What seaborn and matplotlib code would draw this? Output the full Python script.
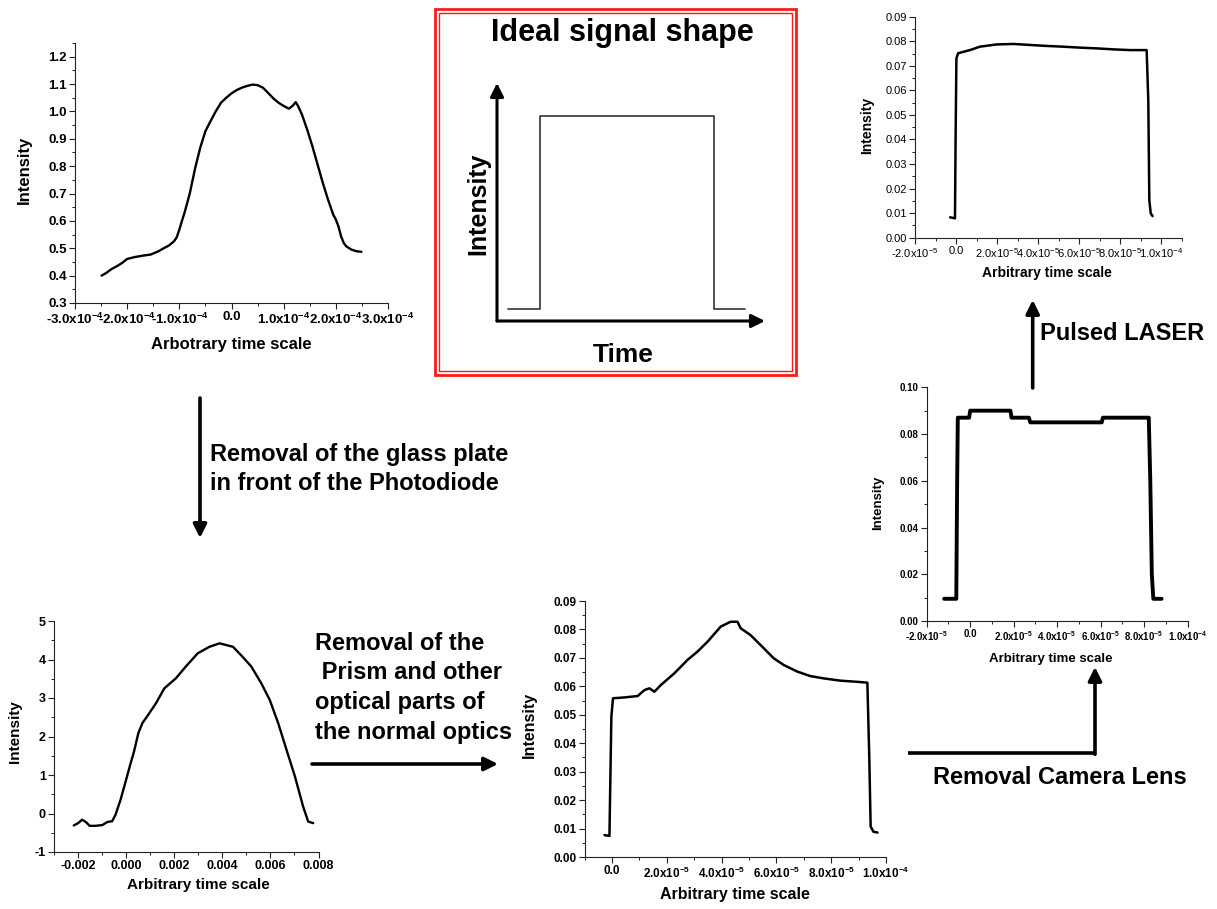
import numpy as np
import pandas as pd
import matplotlib
matplotlib.use("Agg")
import matplotlib.pyplot as plt
import seaborn as sns
from matplotlib.ticker import MultipleLocator, FixedLocator, FixedFormatter
from matplotlib.patches import Rectangle

# ---------------- data ----------------
# Panel A: top-left (glass plate in front of photodiode), time in units of 1e-4
a_time = [-2.49, -2.40, -2.30, -2.20, -2.10, -2.00, -1.85, -1.70, -1.55, -1.40, -1.30, -1.20,
          -1.10, -1.05, -1.00, -0.95, -0.90, -0.80, -0.70, -0.60, -0.50, -0.40, -0.30, -0.20,
          -0.10, 0.00, 0.10, 0.20, 0.30, 0.40, 0.50, 0.60, 0.70, 0.80, 0.90, 1.00, 1.10, 1.18,
          1.23, 1.27, 1.35, 1.45, 1.55, 1.65, 1.75, 1.85, 1.95, 2.00, 2.05, 2.10, 2.15, 2.20,
          2.30, 2.40, 2.49]
a_intensity = [0.400, 0.410, 0.424, 0.434, 0.446, 0.461, 0.468, 0.473, 0.477, 0.489, 0.500, 0.510,
               0.526, 0.540, 0.568, 0.600, 0.630, 0.700, 0.790, 0.867, 0.928, 0.965, 1.001, 1.032,
               1.050, 1.066, 1.078, 1.087, 1.093, 1.098, 1.096, 1.087, 1.068, 1.048, 1.032, 1.020,
               1.010, 1.022, 1.034, 1.022, 0.989, 0.934, 0.873, 0.806, 0.739, 0.678, 0.623, 0.605,
               0.580, 0.544, 0.520, 0.507, 0.495, 0.489, 0.487]

# Panel B: top-right (pulsed laser), time in units of 1e-5
b_time = [-0.29, -0.05, -0.02, 0.02, 0.10, 0.36, 0.68, 1.17, 1.98, 2.80, 3.60, 4.40, 5.20,
          6.05, 6.86, 7.67, 8.49, 9.30, 9.38, 9.43, 9.50, 9.59]
b_intensity = [0.0083, 0.0079, 0.0400, 0.0730, 0.0751, 0.0757, 0.0764, 0.0778, 0.0787, 0.0789,
               0.0785, 0.0781, 0.0778, 0.0774, 0.0771, 0.0767, 0.0764, 0.0764, 0.0560, 0.0153,
               0.0099, 0.0088]

# Panel C: middle-right (camera lens removed), time in units of 1e-5
c_time = [-1.20, -0.64, -0.60, -0.57, -0.05, 0.00, 1.85, 1.90, 2.70, 2.76, 6.05, 6.10,
          8.21, 8.28, 8.35, 8.42, 8.80]
c_intensity = [0.0095, 0.0095, 0.0600, 0.0870, 0.0870, 0.0900, 0.0900, 0.0870, 0.0870, 0.0850,
               0.0850, 0.0870, 0.0870, 0.0600, 0.0200, 0.0095, 0.0095]

# Panel D: bottom-left (glass plate removed), time in units of 1e-3
d_time = [-2.19, -2.01, -1.84, -1.67, -1.53, -1.28, -1.00, -0.79, -0.59, -0.45, -0.24, -0.03,
          0.18, 0.32, 0.50, 0.67, 0.95, 1.23, 1.58, 2.06, 2.48, 2.97, 3.46, 3.88, 4.44, 4.78,
          5.20, 5.62, 5.97, 6.32, 6.67, 7.02, 7.36, 7.57, 7.78]
d_intensity = [-0.31, -0.25, -0.16, -0.23, -0.32, -0.32, -0.30, -0.22, -0.20, -0.03, 0.36, 0.83,
               1.31, 1.61, 2.09, 2.35, 2.60, 2.86, 3.25, 3.51, 3.82, 4.16, 4.33, 4.42, 4.33, 4.11,
               3.82, 3.38, 2.95, 2.35, 1.65, 0.96, 0.18, -0.21, -0.25]

# Panel E: bottom-middle (prism and optics removed), time in units of 1e-5
e_time = [-0.27, -0.09, -0.02, 0.04, 0.46, 0.94, 1.19, 1.37, 1.55, 1.79, 2.28, 2.76, 3.12,
          3.49, 3.97, 4.33, 4.58, 4.70, 5.06, 5.54, 5.91, 6.27, 6.76, 7.24, 7.72, 8.33, 8.93,
          9.32, 9.39, 9.44, 9.54, 9.69]
e_intensity = [0.0077, 0.0074, 0.0493, 0.0558, 0.0561, 0.0566, 0.0587, 0.0593, 0.0581, 0.0605,
               0.0646, 0.0693, 0.0722, 0.0757, 0.0810, 0.0827, 0.0827, 0.0804, 0.0780, 0.0734,
               0.0698, 0.0675, 0.0652, 0.0636, 0.0628, 0.0620, 0.0616, 0.0613, 0.0350, 0.0107,
               0.0089, 0.0086]

# Ideal signal shape (schematic)
ideal_time = [0.4, 1.6, 1.6, 8.1, 8.1, 9.25]
ideal_level = [0.5, 0.5, 8.6, 8.6, 0.5, 0.5]

# Tick labels
a_xticks = [-3e-4, -2e-4, -1e-4, 0.0, 1e-4, 2e-4, 3e-4]
a_xticklabels = ["-3.0x10$^{-4}$", "-2.0x10$^{-4}$", "-1.0x10$^{-4}$", "0.0",
                 "1.0x10$^{-4}$", "2.0x10$^{-4}$", "3.0x10$^{-4}$"]
a_yticks = [0.3, 0.4, 0.5, 0.6, 0.7, 0.8, 0.9, 1.0, 1.1, 1.2]
a_yticklabels = ["0.3", "0.4", "0.5", "0.6", "0.7", "0.8", "0.9", "1.0", "1.1", "1.2"]

b_xticks = [-2e-5, 0.0, 2e-5, 4e-5, 6e-5, 8e-5, 1e-4]
b_xticklabels = ["-2.0x10$^{-5}$", "0.0", "2.0x10$^{-5}$", "4.0x10$^{-5}$", "6.0x10$^{-5}$",
                 "8.0x10$^{-5}$", "1.0x10$^{-4}$"]
b_yticks = [0.00, 0.01, 0.02, 0.03, 0.04, 0.05, 0.06, 0.07, 0.08, 0.09]
b_yticklabels = ["0.00", "0.01", "0.02", "0.03", "0.04", "0.05", "0.06", "0.07", "0.08", "0.09"]

c_xticks = [-2e-5, 0.0, 2e-5, 4e-5, 6e-5, 8e-5, 1e-4]
c_xticklabels = b_xticklabels
c_yticks = [0.00, 0.02, 0.04, 0.06, 0.08, 0.10]
c_yticklabels = ["0.00", "0.02", "0.04", "0.06", "0.08", "0.10"]

d_xticks = [-0.002, 0.0, 0.002, 0.004, 0.006, 0.008]
d_xticklabels = ["-0.002", "0.000", "0.002", "0.004", "0.006", "0.008"]
d_yticks = [-1, 0, 1, 2, 3, 4, 5]
d_yticklabels = ["-1", "0", "1", "2", "3", "4", "5"]

e_xticks = [0.0, 2e-5, 4e-5, 6e-5, 8e-5, 1e-4]
e_xticklabels = ["0.0", "2.0x10$^{-5}$", "4.0x10$^{-5}$", "6.0x10$^{-5}$", "8.0x10$^{-5}$",
                 "1.0x10$^{-4}$"]
e_yticks = b_yticks
e_yticklabels = b_yticklabels

# ---------------- style ----------------
sns.set_theme(style="ticks")
plt.rcParams["font.family"] = ["Liberation Sans", "DejaVu Sans"]
plt.rcParams["mathtext.default"] = "regular"
plt.rcParams["axes.linewidth"] = 0.8
plt.rcParams["text.color"] = "black"
plt.rcParams["axes.labelcolor"] = "black"
plt.rcParams["xtick.color"] = "black"
plt.rcParams["ytick.color"] = "black"

W, H = 1217, 909
fig = plt.figure(figsize=(W / 100, H / 100), dpi=100)
fig.patch.set_facecolor("white")

# overlay in pixel coordinates for annotations
ov = fig.add_axes([0, 0, 1, 1])
ov.set_xlim(0, W)
ov.set_ylim(H, 0)
ov.axis("off")


def px_axes(left, top, right, bottom):
    return fig.add_axes([left / W, 1 - bottom / H, (right - left) / W, (bottom - top) / H])


def panel(ax, x, y, scale, lw, xlim, ylim, xticks, xticklabels, xminor, yticks, yticklabels,
          yminor, tick_fs, tick_weight, label_fs, xlabel, ylabel_px, xlabel_px, box):
    sns.lineplot(x=np.array(x) * scale, y=np.array(y), ax=ax, color="black", lw=lw,
                 estimator=None, sort=False)
    ax.set_facecolor("none")
    ax.set_xlim(*xlim)
    ax.set_ylim(*ylim)
    ax.xaxis.set_major_locator(FixedLocator(xticks))
    ax.xaxis.set_major_formatter(FixedFormatter(xticklabels))
    ax.xaxis.set_minor_locator(MultipleLocator(xminor))
    ax.yaxis.set_major_locator(FixedLocator(yticks))
    ax.yaxis.set_major_formatter(FixedFormatter(yticklabels))
    ax.yaxis.set_minor_locator(MultipleLocator(yminor))
    ax.tick_params(which="major", direction="out", length=4, width=0.8, color="#222222",
                   labelcolor="black", labelsize=tick_fs, pad=2)
    ax.tick_params(which="minor", direction="out", length=2.5, width=0.7, color="#222222")
    for lab in ax.get_xticklabels() + ax.get_yticklabels():
        lab.set_fontweight(tick_weight)
    for s in ("left", "bottom"):
        ax.spines[s].set_color("#222222")
    sns.despine(ax=ax)
    ax.set_xlabel(xlabel, fontsize=label_fs, fontweight="bold", color="black")
    ax.set_ylabel("Intensity", fontsize=label_fs, fontweight="bold", color="black")
    left, top, right, bottom = box
    ax.yaxis.set_label_coords((ylabel_px[0] - left) / (right - left),
                              (bottom - ylabel_px[1]) / (bottom - top))
    ax.yaxis.label.set_verticalalignment("center")
    ax.xaxis.set_label_coords((xlabel_px[0] - left) / (right - left),
                              (bottom - xlabel_px[1]) / (bottom - top))
    ax.xaxis.label.set_verticalalignment("center")


# Panel A
boxA = (75, 43, 388, 303)
axA = px_axes(*boxA)
panel(axA, a_time, a_intensity, 1e-4, 1.7, (-3e-4, 3e-4), (0.3, 1.25), a_xticks, a_xticklabels,
      5e-5, a_yticks, a_yticklabels, 0.05, 9.5, "bold", 12, "Arbotrary time scale",
      (24, 170), (231, 345), boxA)

# Panel B
boxB = (915, 16.7, 1181.5, 237.7)
axB = px_axes(*boxB)
panel(axB, b_time, b_intensity, 1e-5, 1.8, (-2e-5, 1.1e-4), (0, 0.09), b_xticks, b_xticklabels,
      1e-5, b_yticks, b_yticklabels, 0.005, 8, "normal", 10, "Arbitrary time scale",
      (867, 125), (1047, 273), boxB)

# Panel C
boxC = (926.7, 387.3, 1187.7, 621)
axC = px_axes(*boxC)
panel(axC, c_time, c_intensity, 1e-5, 2.8, (-2e-5, 1e-4), (0, 0.10), c_xticks, c_xticklabels,
      1e-5, c_yticks, c_yticklabels, 0.01, 7, "bold", 9.5, "Arbitrary time scale",
      (878, 503), (1051, 659), boxC)

# Panel D
boxD = (54.3, 621, 318.5, 852)
axD = px_axes(*boxD)
panel(axD, d_time, d_intensity, 1e-3, 1.7, (-0.003, 0.008), (-1, 5), d_xticks, d_xticklabels,
      0.001, d_yticks, d_yticklabels, 0.5, 9, "bold", 11, "Arbitrary time scale",
      (15, 732), (198, 885), boxD)

# Panel E
boxE = (584.5, 601, 886, 857)
axE = px_axes(*boxE)
panel(axE, e_time, e_intensity, 1e-5, 1.8, (-1e-5, 1e-4), (0, 0.09), e_xticks, e_xticklabels,
      1e-5, e_yticks, e_yticklabels, 0.005, 8.5, "bold", 11.5, "Arbitrary time scale",
      (529, 725), (735, 895), boxE)

# ---------------- ideal signal box ----------------
ov.add_patch(Rectangle((434.5, 9.0), 361, 366, fill=False, ec="#ff1a1a", lw=2.0))
ov.add_patch(Rectangle((438.5, 13.0), 353, 358, fill=False, ec="#ff1a1a", lw=1.0))
ov.text(622, 33, "Ideal signal shape", fontsize=22, fontweight="bold", ha="center", va="center")
ov.text(478, 204, "Intensity", fontsize=18, fontweight="bold", ha="center", va="center",
        rotation=90)
ov.text(623, 355, "Time", fontsize=19, fontweight="bold", ha="center", va="center")

axI = px_axes(497, 83, 765, 321)
sns.lineplot(x=ideal_time, y=ideal_level, ax=axI, color="#333333", lw=1.2, estimator=None,
             sort=False)
axI.set_xlim(0, 10)
axI.set_ylim(0, 10)
axI.axis("off")
axI.annotate("", xy=(0, 1), xytext=(0, 0), xycoords="axes fraction",
             arrowprops=dict(arrowstyle="-|>", lw=2.2, color="black", mutation_scale=20,
                             shrinkA=0, shrinkB=0))
axI.annotate("", xy=(1, 0), xytext=(0, 0), xycoords="axes fraction",
             arrowprops=dict(arrowstyle="-|>", lw=2.2, color="black", mutation_scale=20,
                             shrinkA=0, shrinkB=0))

# ---------------- process annotations ----------------
arrow_kw = dict(arrowstyle="-|>", lw=2.6, color="black", mutation_scale=20, shrinkA=0, shrinkB=0)
big = dict(fontsize=17, fontweight="bold", va="center", color="black")

# glass plate arrow
ov.annotate("", xy=(200, 538), xytext=(200, 398), arrowprops=arrow_kw)
ov.text(210, 455, "Removal of the glass plate", ha="left", **big)
ov.text(210, 483, "in front of the Photodiode", ha="left", **big)

# prism arrow
ov.annotate("", xy=(498, 764), xytext=(312, 764), arrowprops=arrow_kw)
for i, line in enumerate(["Removal of the", " Prism and other", "optical parts of",
                          "the normal optics"]):
    ov.text(315, 643 + i * 29.7, line, ha="left", **big)

# camera lens arrow
ov.plot([908, 1095], [753, 753], color="black", lw=2.6, solid_capstyle="butt")
ov.annotate("", xy=(1095, 667), xytext=(1095, 754.3), arrowprops=arrow_kw)
ov.text(1060, 777, "Removal Camera Lens", ha="center", **big)

# pulsed laser arrow
ov.annotate("", xy=(1032.7, 300), xytext=(1032.7, 388), arrowprops=arrow_kw)
ov.text(1040, 333, "Pulsed LASER", ha="left", **big)

fig.savefig("out.png", dpi=100, facecolor="white")
